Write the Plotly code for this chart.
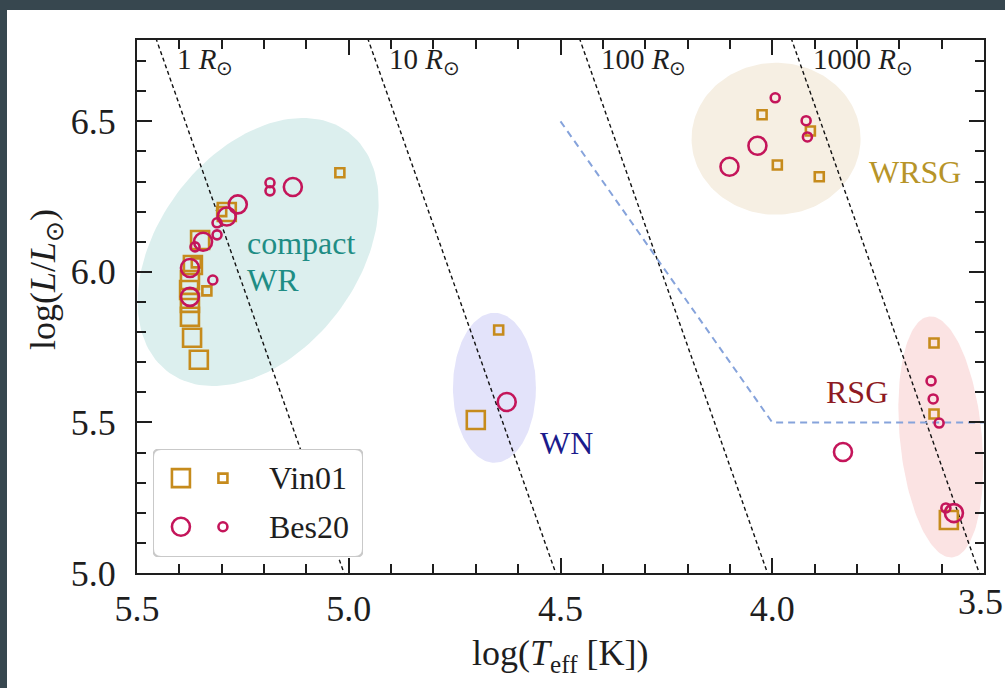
import numpy as np
import plotly.graph_objects as go

# ---------------------------------------------------------------- data
# Vin01 (squares): large and small symbols
vin01_big_logT = [5.354, 5.370, 5.375, 5.375, 5.377, 5.375, 5.368, 5.351, 5.288, 4.700, 3.583]
vin01_big_logL = [5.708, 5.781, 5.851, 5.897, 5.940, 5.973, 6.023, 6.106, 6.199, 5.508, 5.176]
vin01_small_logT = [5.021, 5.335, 5.360, 5.300, 4.646, 4.024, 3.988, 3.910, 3.889, 3.618, 3.618]
vin01_small_logL = [6.329, 5.937, 6.030, 6.200, 5.807, 6.522, 6.355, 6.468, 6.316, 5.764, 5.528]

# Bes20 (circles): large and small symbols
bes20_big_logT = [5.132, 5.262, 5.288, 5.344, 5.375, 5.375, 4.627, 4.101, 4.035, 3.833, 3.571]
bes20_big_logL = [6.282, 6.224, 6.184, 6.100, 6.013, 5.917, 5.568, 6.349, 6.419, 5.402, 5.199]
bes20_small_logT = [5.186, 5.186, 5.321, 5.311, 5.311, 5.363, 3.993, 3.920, 3.917, 3.625, 3.620, 3.606, 3.590]
bes20_small_logL = [6.296, 6.269, 5.973, 6.123, 6.163, 6.083, 6.578, 6.502, 6.448, 5.638, 5.578, 5.498, 5.216]

# Lines of constant radius (in solar radii)
radii = [1, 10, 100, 1000]
radius_labels = ["1", "10", "100", "1000"]
LOG_T_SUN = np.log10(5772.0)

# Broken dashed limit line
limit_logT = [4.5, 4.0, 3.5]
limit_logL = [6.5, 5.5, 5.5]

# Axes
X_RANGE = [5.5, 3.5]
Y_RANGE = [5.0, 6.77]
x_ticks = [5.5, 5.0, 4.5, 4.0, 3.5]
y_ticks = [5.0, 5.5, 6.0, 6.5]

# ---------------------------------------------------------------- layout geometry
W, H = 1005, 688
ML, MR, MT, MB = 137, 21, 40, 115
PW, PH = W - ML - MR, H - MT - MB
PX_PER_X = PW / abs(X_RANGE[1] - X_RANGE[0])
PX_PER_Y = PH / abs(Y_RANGE[1] - Y_RANGE[0])


def px_x(p):
    return (p - ML) / PW


def px_y(p):
    return (H - MB - p) / PH


SERIF = "Liberation Serif"
SQ_COL = "#C68B1C"
CI_COL = "#C4155A"
INK = "#1e1e1e"

# region ellipses: centre (data), semi-axes (px), tilt (deg, screen)
regions = [
    dict(cx=5.214, cy=6.066, a=150, b=100, ang=53, fill="#DCEFEE"),
    dict(cx=4.656, cy=5.615, a=41.5, b=75, ang=0, fill="#E3E3FA"),
    dict(cx=3.991, cy=6.442, a=84.5, b=76, ang=0, fill="#F6EFE3"),
    dict(cx=3.602, cy=5.452, a=121, b=41, ang=95.5, fill="#FBE3E3"),
]


def ellipse(cx, cy, a, b, ang, n=160):
    t = np.linspace(0, 2 * np.pi, n)
    th = np.radians(ang)
    u = a * np.cos(t) * np.cos(th) - b * np.sin(t) * np.sin(th)
    v = a * np.cos(t) * np.sin(th) + b * np.sin(t) * np.cos(th)
    return cx - u / PX_PER_X, cy + v / PX_PER_Y


fig = go.Figure()

for r in regions:
    ex, ey = ellipse(r["cx"], r["cy"], r["a"], r["b"], r["ang"])
    fig.add_trace(go.Scatter(x=ex, y=ey, mode="lines", fill="toself",
                             fillcolor=r["fill"], line=dict(width=0),
                             hoverinfo="skip"))

# constant-radius lines: log L = 4 (log T - log T_sun) + 2 log R
logL_line = np.linspace(4.9, 6.9, 50)
for R in radii:
    logT_line = LOG_T_SUN + (logL_line - 2 * np.log10(R)) / 4.0
    fig.add_trace(go.Scatter(x=logT_line, y=logL_line, mode="lines",
                             line=dict(color="#111111", width=1.4, dash="4px,3px"),
                             hoverinfo="skip"))

fig.add_trace(go.Scatter(x=limit_logT, y=limit_logL, mode="lines",
                         line=dict(color="#86A3DB", width=2, dash="7px,5px"),
                         hoverinfo="skip"))


def markers(x, y, symbol, color, size, xa="x", ya="y"):
    return go.Scatter(x=x, y=y, mode="markers", xaxis=xa, yaxis=ya,
                      marker=dict(symbol=symbol, size=size, color=color,
                                  line=dict(color=color, width=2.6)),
                      hoverinfo="skip")


fig.add_trace(markers(vin01_big_logT, vin01_big_logL, "square-open", SQ_COL, 18))
fig.add_trace(markers(vin01_small_logT, vin01_small_logL, "square-open", SQ_COL, 9))
fig.add_trace(markers(bes20_big_logT, bes20_big_logL, "circle-open", CI_COL, 18))
fig.add_trace(markers(bes20_small_logT, bes20_small_logL, "circle-open", CI_COL, 9))

# legend drawn in its own small subplot
LEG_X = [153, 363]
LEG_Y = [449, 557]
fig.add_trace(markers([0.133], [0.73], "square-open", SQ_COL, 18, "x2", "y2"))
fig.add_trace(markers([0.333], [0.73], "square-open", SQ_COL, 9, "x2", "y2"))
fig.add_trace(markers([0.133], [0.28], "circle-open", CI_COL, 18, "x2", "y2"))
fig.add_trace(markers([0.333], [0.28], "circle-open", CI_COL, 9, "x2", "y2"))

rx, ry = 8 / (LEG_X[1] - LEG_X[0]), 8 / (LEG_Y[1] - LEG_Y[0])
box_path = (f"M {rx},0 L {1-rx},0 Q 1,0 1,{ry} L 1,{1-ry} Q 1,1 {1-rx},1 "
            f"L {rx},1 Q 0,1 0,{1-ry} L 0,{ry} Q 0,0 {rx},0 Z")

shapes = [
    dict(type="path", path=box_path, xref="x2", yref="y2", layer="below",
         fillcolor="white", line=dict(color="#C9C9C9", width=2)),
    # dark page edges
    dict(type="rect", xref="paper", yref="paper", x0=px_x(0), x1=px_x(7),
         y0=px_y(H), y1=px_y(0), fillcolor="#37474F", line=dict(width=0), layer="above"),
    dict(type="rect", xref="paper", yref="paper", x0=px_x(0), x1=px_x(W),
         y0=px_y(10), y1=px_y(0), fillcolor="#37474F", line=dict(width=0), layer="above"),
]

annotations = []


def label(text, x, y, size, color, xanchor="center", xref="x", yref="y",
          yanchor="middle", **kw):
    annotations.append(dict(text=text, x=x, y=y, xref=xref, yref=yref, showarrow=False,
                            xanchor=xanchor, yanchor=yanchor,
                            font=dict(family=SERIF, size=size, color=color), **kw))


label("compact", 5.245, 6.096, 32, "#1F8D85", "left")
label("WR", 5.245, 5.973, 32, "#1F8D85", "left")
label("WN", 4.485, 5.432, 32, "#1B1B8C")
label("WRSG", 3.663, 6.332, 32, "#B79428")
label("RSG", 3.800, 5.601, 32, "#8E1A22")

lab_y = 6.70
for R, txt in zip(radii, radius_labels):
    x_at = LOG_T_SUN + (lab_y - 2 * np.log10(R)) / 4.0
    label(f"{txt} <i>R</i><sub>⊙</sub>", x_at - 0.027, lab_y, 29, INK, "left")

label("Vin01", 0.543, 0.73, 32, INK, "left", "x2", "y2")
label("Bes20", 0.543, 0.28, 32, INK, "left", "x2", "y2")

# last x tick label sits at the page edge, so it is right-aligned to it
label(f"{x_ticks[-1]:.1f}", px_x(W - 1), 0, 36, INK, "right", "paper", "paper",
      yanchor="top", yshift=-8, borderpad=0)

label("log(<i>T</i><sub>eff</sub> [K])", px_x(560), px_y(655), 36, INK, "center", "paper", "paper")
label("log(<i>L</i>/<i>L</i><sub>⊙</sub>)", px_x(45), px_y(280), 36, INK, "center", "paper", "paper",
      textangle=-90)

axis_common = dict(
    ticks="inside", ticklen=15, tickwidth=2, tickcolor=INK,
    showline=True, linecolor=INK, linewidth=2, mirror="allticks",
    showgrid=False, zeroline=False,
    tickfont=dict(family=SERIF, size=36, color=INK),
    minor=dict(dtick=0.1, ticks="inside", ticklen=9, tickwidth=1.6,
               tickcolor=INK, showgrid=False),
)

fig.update_layout(
    width=W, height=H, autosize=False,
    margin=dict(l=ML, r=MR, t=MT, b=MB, pad=0),
    paper_bgcolor="white", plot_bgcolor="white",
    showlegend=False,
    xaxis=dict(range=X_RANGE, tickvals=x_ticks[:-1], tickformat=".1f",
               ticklabelstandoff=3, **axis_common),
    yaxis=dict(range=Y_RANGE, tickvals=y_ticks, tickformat=".1f",
               ticklabelstandoff=12, **axis_common),
    xaxis2=dict(domain=[px_x(LEG_X[0]), px_x(LEG_X[1])], range=[0, 1],
                visible=False, anchor="y2", fixedrange=True),
    yaxis2=dict(domain=[px_y(LEG_Y[1]), px_y(LEG_Y[0])], range=[0, 1],
                visible=False, anchor="x2", fixedrange=True),
    shapes=shapes,
    annotations=annotations,
)

fig.write_html("out.html")
